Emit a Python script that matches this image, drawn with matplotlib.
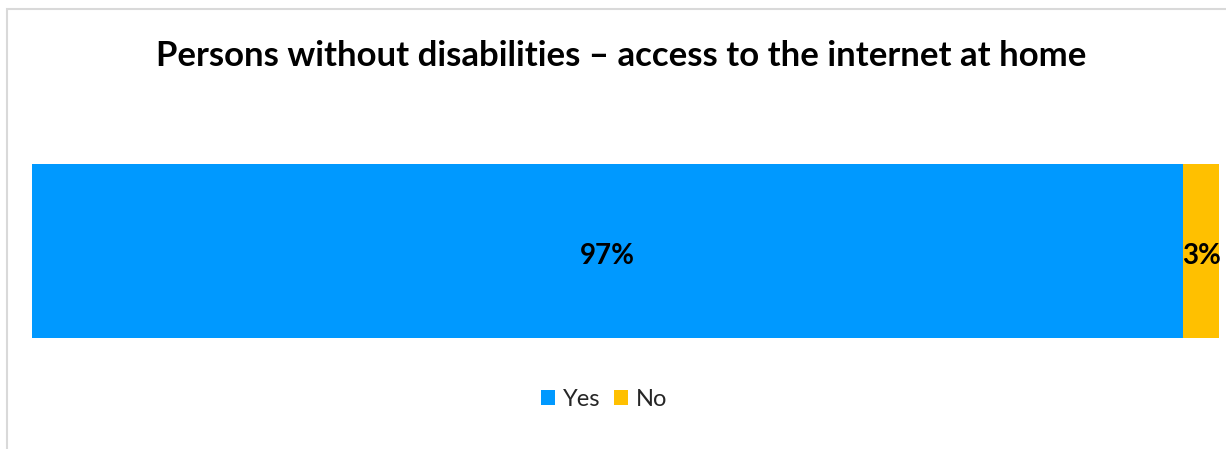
import matplotlib
matplotlib.use('Agg')
import matplotlib.pyplot as plt
from matplotlib.patches import Rectangle, Patch

# data
title = "Persons without disabilities \u2013 access to the internet at home"
categories = ["Yes", "No"]
shares = [97, 3]
colors = ["#0099FF", "#FFC000"]

W, H = 1226, 449
fig = plt.figure(figsize=(W / 100, H / 100), dpi=100)
plt.rcParams['font.family'] = ['Lato', 'DejaVu Sans']

# chart area border (runs off the right and bottom edges)
fig.patches.append(Rectangle((6.5 / W, -0.1), 1.2, 1 - 8.5 / H + 0.1,
                             transform=fig.transFigure, fill=False,
                             edgecolor="#d9d9d9", lw=1.5))

fig.text(621 / W, 1 - 53 / H, title, ha="center", va="center_baseline",
         fontsize=25, fontweight="bold", color="black")

ax = fig.add_axes([32 / W, 1 - 338 / H, 1187 / W, 174 / H])
left = 0
for cat, val, col in zip(categories, shares, colors):
    ax.barh(0, val, left=left, height=1, color=col, label=cat)
    ax.text(left + val / 2, -0.015, f"{val}%", ha="center", va="center_baseline",
            fontsize=20, fontweight="bold", color="black")
    left += val
ax.set_xlim(0, sum(shares))
ax.set_ylim(-0.5, 0.5)
ax.axis("off")

handles = [Patch(facecolor=c, label=l) for l, c in zip(categories, colors)]
fig.legend(handles=handles, loc="center", bbox_to_anchor=(604 / W, 1 - 399 / H),
           ncol=2, frameon=False, fontsize=17, handlelength=0.6, handleheight=0.6,
           handletextpad=0.3, columnspacing=0.6, labelcolor="#262626")

fig.savefig("out.png", dpi=100)
